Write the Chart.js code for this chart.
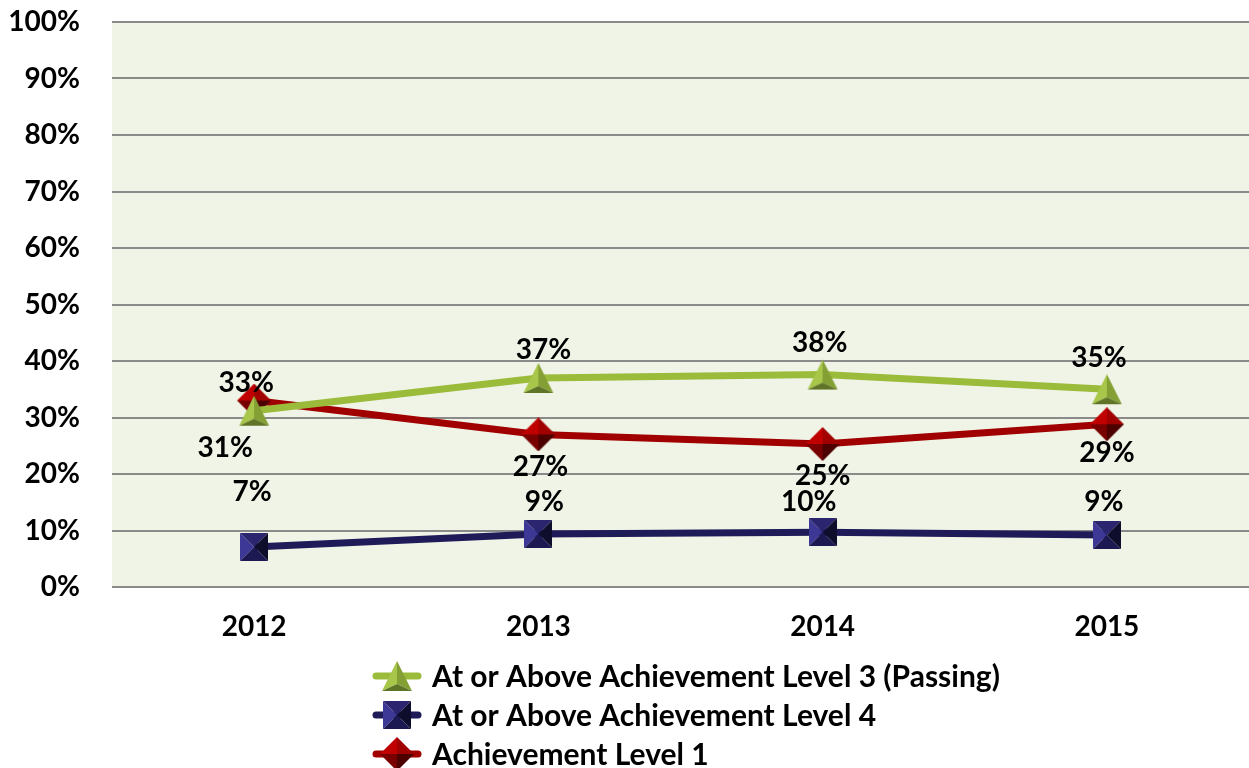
<!DOCTYPE html>
<html>
<head>
<meta charset="utf-8">
<script src="https://cdn.jsdelivr.net/npm/chart.js@4.4.1/dist/chart.umd.min.js"></script>
<style>
  html, body { margin: 0; padding: 0; background: #fff; overflow: hidden; }
  canvas { display: block; }
</style>
</head>
<body>
<canvas id="lineChart" width="1249" height="768"></canvas>
<script>
const years = ['2012', '2013', '2014', '2015'];
const level3 = [31.2, 37.0, 37.6, 35.0];
const level4 = [7.1, 9.4, 9.7, 9.2];
const level1 = [33.0, 27.0, 25.3, 28.8];
const yTicks = [0, 10, 20, 30, 40, 50, 60, 70, 80, 90, 100];

const FONT = 'Lato, "Open Sans", sans-serif';

// shaded marker images
function makeMarker(w, h, faces) {
    const c = document.createElement('canvas');
    c.width = w; c.height = h;
    const g = c.getContext('2d');
    faces.forEach(f => {
        g.beginPath();
        g.moveTo(f.pts[0][0], f.pts[0][1]);
        for (let i = 1; i < f.pts.length; i++) g.lineTo(f.pts[i][0], f.pts[i][1]);
        g.closePath();
        g.fillStyle = f.color;
        g.fill();
    });
    return c;
}

const triangle = makeMarker(32, 32, [
    { pts: [[16, 1], [1, 31], [16, 24]], color: '#a8c64a' },
    { pts: [[16, 1], [31, 31], [16, 24]], color: '#84a035' },
    { pts: [[1, 31], [31, 31], [16, 24]], color: '#5f7426' }
]);
const square = makeMarker(28, 28, [
    { pts: [[0, 0], [0, 28], [14, 14]], color: '#3d3896' },
    { pts: [[0, 0], [28, 0], [14, 14]], color: '#2a256e' },
    { pts: [[28, 0], [28, 28], [14, 14]], color: '#0f0d2c' },
    { pts: [[0, 28], [28, 28], [14, 14]], color: '#1c1852' }
]);
const diamond = makeMarker(34, 34, [
    { pts: [[17, 0], [0, 17], [17, 17]], color: '#c00000' },
    { pts: [[17, 0], [34, 17], [17, 17]], color: '#a00000' },
    { pts: [[34, 17], [17, 34], [17, 17]], color: '#4c0000' },
    { pts: [[0, 17], [17, 34], [17, 17]], color: '#780000' }
]);

const plotBackground = {
    id: 'plotBackground',
    beforeDraw(chart) {
        const a = chart.chartArea, ctx = chart.ctx;
        ctx.save();
        ctx.fillStyle = '#f0f4e7';
        ctx.fillRect(a.left, a.top, a.right - a.left, a.bottom - a.top);
        ctx.restore();
    }
};

const valueLabels = {
    id: 'valueLabels',
    afterDatasetsDraw(chart) {
        const ctx = chart.ctx;
        ctx.save();
        ctx.font = 'bold 28px ' + FONT;
        ctx.fillStyle = '#000';
        ctx.textAlign = 'center';
        ctx.textBaseline = 'middle';
        chart.data.datasets.forEach((ds, i) => {
            chart.getDatasetMeta(i).data.forEach((pt, j) => {
                const off = ds.labelPos[j];
                ctx.fillText(Math.round(ds.data[j]) + '%', pt.x + off[0], pt.y + off[1]);
            });
        });
        ctx.restore();
    }
};

const bottomLegend = {
    id: 'bottomLegend',
    afterDraw(chart) {
        const ctx = chart.ctx;
        ctx.save();
        ctx.font = 'bold 30px ' + FONT;
        ctx.textBaseline = 'middle';
        ctx.textAlign = 'left';
        chart.data.datasets.forEach((ds, i) => {
            const y = 676 + i * 39;
            ctx.strokeStyle = ds.borderColor;
            ctx.lineWidth = 7;
            ctx.lineCap = 'round';
            ctx.beginPath();
            ctx.moveTo(376, y);
            ctx.lineTo(418, y);
            ctx.stroke();
            const img = ds.pointStyle;
            ctx.drawImage(img, 397 - img.width / 2, y - img.height / 2);
            ctx.fillStyle = '#000';
            ctx.fillText(ds.label, 432, y + 1);
        });
        ctx.restore();
    }
};

const ctx = document.getElementById('lineChart').getContext('2d');

const lineChart = new Chart(ctx, {
    type: 'line',
    data: {
        labels: years,
        datasets: [{
            label: 'At or Above Achievement Level 3 (Passing)',
            data: level3,
            borderColor: '#9bbb3b',
            borderWidth: 7,
            pointStyle: triangle,
            labelPos: [[-29, 37], [5, -28], [-3, -32], [-8, -31]]
        },
        {
            label: 'At or Above Achievement Level 4',
            data: level4,
            borderColor: '#1f1b58',
            borderWidth: 7,
            pointStyle: square,
            labelPos: [[-2, -55], [6, -32], [-14, -30], [-3, -33]]
        },
        {
            label: 'Achievement Level 1',
            data: level1,
            borderColor: '#a00000',
            borderWidth: 7,
            pointStyle: diamond,
            labelPos: [[-8, -18], [2, 33], [0, 32], [0, 29]]
        }]
    },
    options: {
        responsive: false,
        animation: false,
        devicePixelRatio: 1,
        layout: { autoPadding: false, padding: { top: 22, right: 0, left: 0, bottom: 0 } },
        plugins: {
            legend: { display: false },
            tooltip: { enabled: false }
        },
        scales: {
            x: {
                offset: true,
                grid: { display: false },
                border: { display: false },
                ticks: {
                    color: '#000',
                    padding: 15,
                    maxRotation: 0,
                    font: { family: FONT, size: 28, weight: 'bold' }
                },
                afterFit(scale) {
                    scale.height = 181;
                    scale.paddingLeft = 0;
                    scale.paddingRight = 0;
                }
            },
            y: {
                min: 0,
                max: 100,
                afterBuildTicks(scale) { scale.ticks = yTicks.map(v => ({ value: v })); },
                grid: { color: '#8a8a8a', lineWidth: 2, drawTicks: false },
                border: { display: false },
                ticks: {
                    color: '#000',
                    padding: 32,
                    font: { family: FONT, size: 28, weight: 'bold' },
                    callback: v => v + '%'
                },
                afterFit(scale) {
                    scale.width = 112;
                    scale.paddingTop = 0;
                    scale.paddingBottom = 0;
                }
            }
        }
    },
    plugins: [plotBackground, valueLabels, bottomLegend]
});
</script>
</body>
</html>
